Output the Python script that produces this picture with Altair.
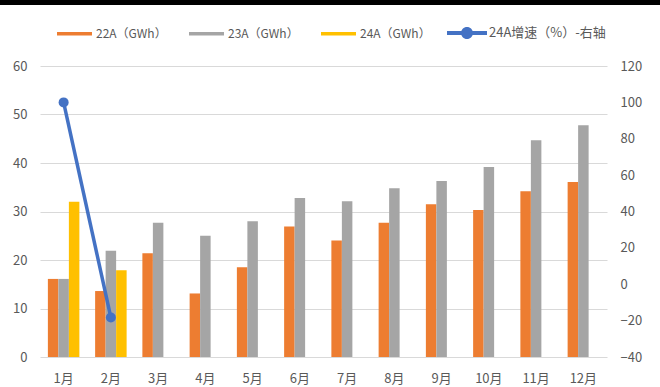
import altair as alt
import pandas as pd

months = ["1月", "2月", "3月", "4月", "5月", "6月", "7月", "8月", "9月", "10月", "11月", "12月"]
series = ["22A（GWh）", "23A（GWh）", "24A（GWh）"]
v22 = [16.1, 13.6, 21.4, 13.1, 18.5, 26.9, 24.0, 27.7, 31.5, 30.3, 34.2, 36.1]
v23 = [16.1, 21.9, 27.7, 25.0, 28.0, 32.8, 32.1, 34.8, 36.3, 39.2, 44.7, 47.8]
v24 = [32.0, 17.9]
growth_months = ["1月", "2月"]
growth = [100.0, -18.3]
growth_name = "24A增速（%）-右轴"
left_ticks = [0, 10, 20, 30, 40, 50, 60]
right_ticks = [-40, -20, 0, 20, 40, 60, 80, 100, 120]

bar_colors = ["#ED7D31", "#A5A5A5", "#FFC000"]
line_color = "#4472C4"
FONT = "Noto Sans CJK SC"
TXT = "#595959"

rows = []
for m, a in zip(months, v22):
    rows.append({"month": m, "series": series[0], "value": a})
for m, a in zip(months, v23):
    rows.append({"month": m, "series": series[1], "value": a})
for m, a in zip(months, v24):
    rows.append({"month": m, "series": series[2], "value": a})
bars_df = pd.DataFrame(rows)
growth_df = pd.DataFrame({"month": growth_months, "growth": growth, "name": growth_name})

xscale = alt.Scale(domain=months, paddingInner=1/3, paddingOuter=1/6)
xaxis = alt.Axis(title=None, ticks=False, domain=False, labelAngle=0, labelFont=FONT,
                 labelFontSize=13, labelColor=TXT, labelPadding=15)

bar_sym = "M-1,-0.1H1V0.1H-1Z"
line_sym = "M-1,-0.1H1V0.1H-1Z M0.3,0A0.3,0.3,0,1,1,-0.3,0A0.3,0.3,0,1,1,0.3,0Z"

right_axis = alt.Axis(title=None, orient="right", values=right_ticks, ticks=False,
                      domain=False, grid=False, labelFont=FONT, labelFontSize=13,
                      labelColor=TXT, labelPadding=13)

bars = alt.Chart(bars_df).mark_bar().encode(
    x=alt.X("month:N", sort=months, scale=xscale, axis=xaxis),
    xOffset=alt.XOffset("series:N", sort=series, scale=alt.Scale(domain=series, paddingInner=0, paddingOuter=0)),
    y=alt.Y("value:Q", scale=alt.Scale(domain=[0, 60], nice=False),
            axis=alt.Axis(title=None, values=left_ticks, ticks=False, domain=False,
                          gridColor="#D9D9D9", gridWidth=1, labelFont=FONT, labelFontSize=13,
                          labelColor=TXT, labelPadding=13)),
    color=alt.Color("series:N", sort=series,
                    scale=alt.Scale(domain=series, range=bar_colors),
                    legend=alt.Legend(title=None, orient="none", direction="horizontal",
                                      legendX=17, legendY=-50, symbolType=bar_sym,
                                      symbolSize=1225, symbolStrokeWidth=0,
                                      labelFont=FONT, labelFontSize=12, labelColor=TXT,
                                      labelOffset=4, columnPadding=22, padding=0)),
)

line = alt.Chart(growth_df).mark_line(color=line_color, strokeWidth=3.5).encode(
    x=alt.X("month:N", sort=months, scale=xscale, axis=xaxis),
    y=alt.Y("growth:Q", scale=alt.Scale(domain=[-40, 120], nice=False), axis=right_axis),
)
points = alt.Chart(growth_df).mark_point(filled=True, size=100, opacity=1).encode(
    x=alt.X("month:N", sort=months, scale=xscale, axis=xaxis),
    y=alt.Y("growth:Q", scale=alt.Scale(domain=[-40, 120], nice=False), axis=right_axis),
    color=alt.Color("name:N", scale=alt.Scale(domain=[growth_name], range=[line_color]),
                    legend=alt.Legend(title=None, orient="none", direction="horizontal",
                                      legendX=407, legendY=-53, symbolType=line_sym,
                                      symbolSize=1600, symbolStrokeWidth=0,
                                      labelFont=FONT, labelFontSize=13, labelColor=TXT,
                                      labelOffset=2, padding=0)),
)

topbar = alt.Chart(pd.DataFrame({"k": [0]})).mark_rule(color="black", strokeWidth=5).encode(
    x=alt.value(-40), x2=alt.value(620), y=alt.value(-63.5)
)

chart = alt.layer(bars, alt.layer(line, points), topbar).resolve_scale(
    y="independent", color="independent"
).resolve_legend(color="independent").properties(
    width=567, height=291,
    autosize=alt.AutoSizeParams(type="none"),
    padding={"left": 40, "top": 66, "right": 53, "bottom": 30},
    background="white",
).configure_view(stroke=None)

chart.save("out.html", embed_options={"renderer": "svg", "actions": False})
